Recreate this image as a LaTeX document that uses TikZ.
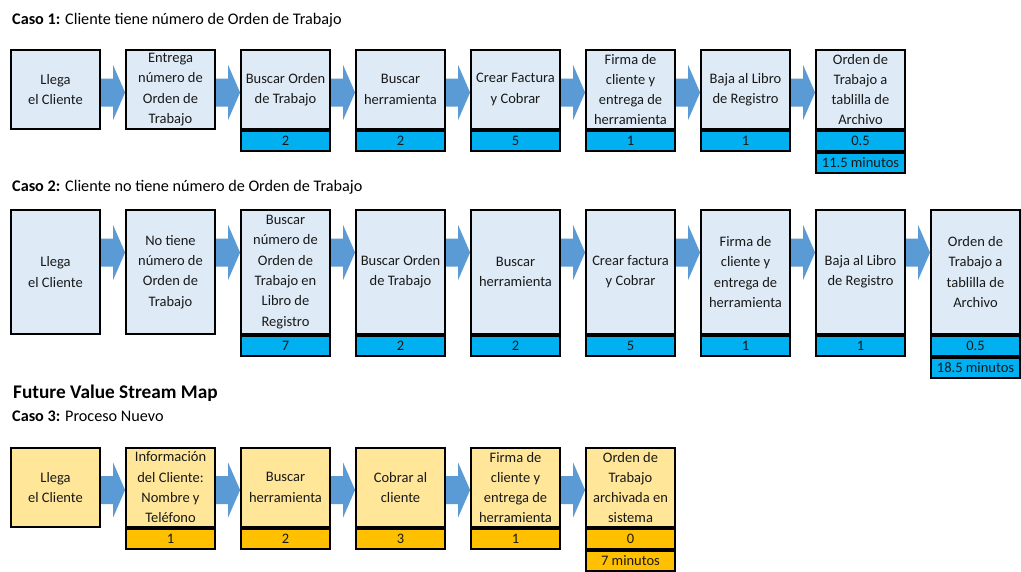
\documentclass[tikz,border=0pt]{standalone}
\usepackage{fontspec}
\setmainfont{Carlito}
\usetikzlibrary{backgrounds,calc}
\definecolor{pblue}{HTML}{DEEBF7}
\definecolor{tblue}{HTML}{00B0F0}
\definecolor{pyel}{HTML}{FFE699}
\definecolor{tyel}{HTML}{FFC000}
\definecolor{arr}{HTML}{5B9BD5}
\newcommand\boxfont{\fontsize{14.5}{20.3}\selectfont}
\newcommand\titlefont{\fontsize{16.2}{19}\selectfont}
\newcommand\bigtitlefont{\fontsize{19.3}{23}\selectfont\bfseries}
\tikzset{
 base/.style={draw=black, line width=1.8pt, inner sep=0pt, align=center, font=\boxfont, text=black!90},
 procb/.style={base, fill=pblue, minimum width=89pt, minimum height=79pt},
 procbt/.style={procb, minimum height=124pt},
 procy/.style={base, fill=pyel, minimum width=89pt, minimum height=79pt},
 timeb/.style={base, fill=tblue, minimum width=89pt, minimum height=20.3pt, anchor=north},
 timey/.style={timeb, fill=tyel},
 title/.style={anchor=base west, inner sep=0pt, font=\titlefont},
}
\newcommand\flowarrow[3]{%
 \begin{pgfonlayer}{background}
 \fill[arr] let \p1=(#1.east), \p2=(#2.west) in
   (\x1, #3-14) -- (\x2-12pt, #3-14) -- (\x2-12pt, #3-27.5) -- (\x2, #3)
   -- (\x2-12pt, #3+27.5) -- (\x2-12pt, #3+14) -- (\x1, #3+14) -- cycle;
 \end{pgfonlayer}}
\begin{document}
\begin{tikzpicture}[x=1pt,y=-1pt]
\begin{pgfonlayer}{background}
\fill[white] (0,0) rectangle (1021,571);
\end{pgfonlayer}
\useasboundingbox (0,0) rectangle (1021,571);

% Titles
\node[title] (c1) at (12,24) {\textbf{Caso 1:} Cliente tiene número de Orden de Trabajo};
\node[title] (c2) at (12,191) {\textbf{Caso 2:} Cliente no tiene número de Orden de Trabajo};
\node[title, font=\bigtitlefont] (fv) at (13,398) {Future Value Stream Map};
\node[title] (c3) at (12,421) {\textbf{Caso 3:} Proceso Nuevo};

% Row 1
\node[procb] (r1a) at (55.5,89.5) {Llega\\el Cliente};
\node[procb] (r1b) at (170.5,89.5) {Entrega\\número de\\Orden de\\Trabajo};
\node[procb] (r1c) at (285.5,89.5) {Buscar Orden\\de Trabajo};
\node[procb] (r1d) at (400.5,89.5) {Buscar\\herramienta};
\node[procb] (r1e) at (515.5,89.5) {Crear Factura\\y Cobrar};
\node[procb] (r1f) at (630.5,89.5) {Firma de\\cliente y\\entrega de\\herramienta};
\node[procb] (r1g) at (745.5,89.5) {Baja al Libro\\de Registro};
\node[procb] (r1h) at (860.5,89.5) {Orden de\\Trabajo a\\tablilla de\\Archivo};
\node[timeb] (t1c) at (r1c.south) {2};
\node[timeb] (t1d) at (r1d.south) {2};
\node[timeb] (t1e) at (r1e.south) {5};
\node[timeb] (t1f) at (r1f.south) {1};
\node[timeb] (t1g) at (r1g.south) {1};
\node[timeb] (t1h) at (r1h.south) {0.5};
\node[timeb] (s1) at (t1h.south) {11.5 minutos};
\flowarrow{r1a}{r1b}{92.5}
\flowarrow{r1b}{r1c}{92.5}
\flowarrow{r1c}{r1d}{92.5}
\flowarrow{r1d}{r1e}{92.5}
\flowarrow{r1e}{r1f}{92.5}
\flowarrow{r1f}{r1g}{92.5}
\flowarrow{r1g}{r1h}{92.5}

% Row 2
\node[procbt] (r2a) at (55.5,272) {Llega\\el Cliente};
\node[procbt] (r2b) at (170.5,272) {No tiene\\número de\\Orden de\\Trabajo};
\node[procbt] (r2c) at (285.5,272) {Buscar\\número de\\Orden de\\Trabajo en\\Libro de\\Registro};
\node[procbt] (r2d) at (400.5,272) {Buscar Orden\\de Trabajo};
\node[procbt] (r2e) at (515.5,272) {Buscar\\herramienta};
\node[procbt] (r2f) at (630.5,272) {Crear factura\\y Cobrar};
\node[procbt] (r2g) at (745.5,272) {Firma de\\cliente y\\entrega de\\herramienta};
\node[procbt] (r2h) at (860.5,272) {Baja al Libro\\de Registro};
\node[procbt] (r2i) at (975.5,272) {Orden de\\Trabajo a\\tablilla de\\Archivo};
\node[timeb] (t2c) at (r2c.south) {7};
\node[timeb] (t2d) at (r2d.south) {2};
\node[timeb] (t2e) at (r2e.south) {2};
\node[timeb] (t2f) at (r2f.south) {5};
\node[timeb] (t2g) at (r2g.south) {1};
\node[timeb] (t2h) at (r2h.south) {1};
\node[timeb] (t2i) at (r2i.south) {0.5};
\node[timeb] (s2) at (t2i.south) {18.5 minutos};
\flowarrow{r2a}{r2b}{252.5}
\flowarrow{r2b}{r2c}{252.5}
\flowarrow{r2c}{r2d}{252.5}
\flowarrow{r2d}{r2e}{252.5}
\flowarrow{r2e}{r2f}{252.5}
\flowarrow{r2f}{r2g}{252.5}
\flowarrow{r2g}{r2h}{252.5}
\flowarrow{r2h}{r2i}{252.5}

% Row 3
\node[procy] (r3a) at (55.5,487.5) {Llega\\el Cliente};
\node[procy] (r3b) at (170.5,487.5) {Información\\del Cliente:\\Nombre y\\Teléfono};
\node[procy] (r3c) at (285.5,487.5) {Buscar\\herramienta};
\node[procy] (r3d) at (400.5,487.5) {Cobrar al\\cliente};
\node[procy] (r3e) at (515.5,487.5) {Firma de\\cliente y\\entrega de\\herramienta};
\node[procy] (r3f) at (630.5,487.5) {Orden de\\Trabajo\\archivada en\\sistema};
\node[timey] (t3b) at (r3b.south) {1};
\node[timey] (t3c) at (r3c.south) {2};
\node[timey] (t3d) at (r3d.south) {3};
\node[timey] (t3e) at (r3e.south) {1};
\node[timey] (t3f) at (r3f.south) {0};
\node[timey] (s3) at (t3f.south) {7 minutos};
\flowarrow{r3a}{r3b}{490}
\flowarrow{r3b}{r3c}{490}
\flowarrow{r3c}{r3d}{490}
\flowarrow{r3d}{r3e}{490}
\flowarrow{r3e}{r3f}{490}
\end{tikzpicture}
\end{document}
